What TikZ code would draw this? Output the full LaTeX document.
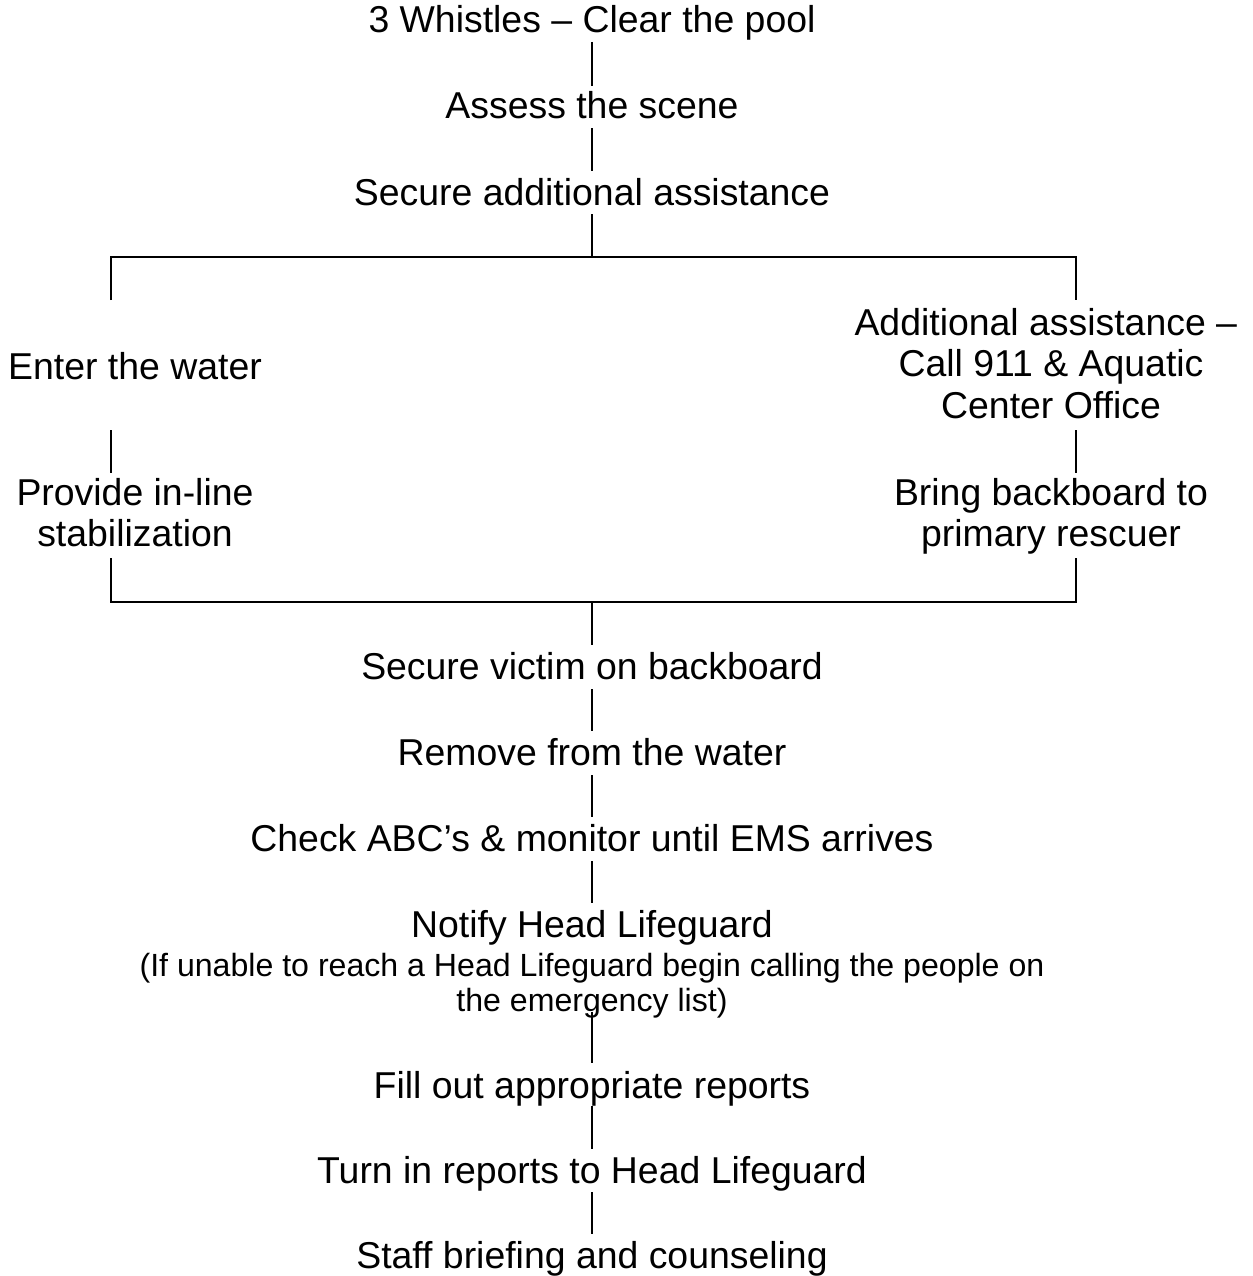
\documentclass[tikz,border=0pt]{standalone}
\usepackage{fontspec}
\setmainfont{Liberation Sans}
\usetikzlibrary{calc}
\newcommand\mainsz{\fontsize{37.4}{41.5}\selectfont}
\newcommand\notesz{\fontsize{32.1}{35}\selectfont}
\newcommand\lines[1]{\begin{tabular}[t]{@{}c@{}}#1\end{tabular}}
\tikzset{
  steptext/.style={anchor=base, inner sep=0pt, outer sep=0pt, font=\mainsz},
  notetext/.style={anchor=base, inner sep=0pt, outer sep=0pt, font=\notesz},
  link/.style={draw=black, line width=1.5pt, line cap=butt},
}
\begin{document}
\begin{tikzpicture}[x=1pt, y=-1pt]
\useasboundingbox (0,0) rectangle (1252,1276);
\fill[white] (0,0) rectangle (1252,1276);

% top chain
\node[steptext] (n1) at (592,33) {3 Whistles – Clear the pool};
\node[steptext] (n2) at (592,119) {Assess the scene};
\node[steptext] (n3) at (592,205) {Secure additional assistance};

% branches
\node[steptext] (enter) at (135,379) {Enter the water};
\node[steptext] (provide) at (135,505) {\lines{Provide in-line\\stabilization}};
\node[steptext] (addl) at (1051,335) {\lines{Additional assistance –\kern0.278em\\Call 911 \& Aquatic\\Center Office}};
\node[steptext] (bring) at (1051,505) {\lines{Bring backboard to\\primary rescuer}};

% bottom chain
\node[steptext] (s1) at (592,679) {Secure victim on backboard};
\node[steptext] (s2) at (592,765) {Remove from the water};
\node[steptext] (s3) at (592,851) {Check ABC’s \& monitor until EMS arrives};
\node[steptext] (s4) at (592,937) {Notify Head Lifeguard};
\node[notetext] (note) at (592,976) {\lines{(If unable to reach a Head Lifeguard begin calling the people on\\the emergency list)}};
\node[steptext] (s5) at (592,1098) {Fill out appropriate reports};
\node[steptext] (s6) at (592,1183) {Turn in reports to Head Lifeguard};
\node[steptext] (s7) at (592,1268) {Staff briefing and counseling};

% junction coordinates
\coordinate (jtop) at (592,257);
\coordinate (tl) at (111,257);
\coordinate (tr) at (1076,257);
\coordinate (tlend) at (111,300);
\coordinate (trend) at (1076,300);
\coordinate (ml1) at (111,430);
\coordinate (ml2) at (111,473);
\coordinate (mr1) at (1076,430);
\coordinate (mr2) at (1076,473);
\coordinate (bl1) at (111,558);
\coordinate (bl) at (111,602);
\coordinate (br) at (1076,602);
\coordinate (br1) at (1076,558);
\coordinate (jbot) at (592,602);

% connectors
\draw[link] ($(n1.base)+(0,9)$) -- ($(n2.base)+(0,-33)$);
\draw[link] ($(n2.base)+(0,9.5)$) -- ($(n3.base)+(0,-33.5)$);
\draw[link] ($(n3.base)+(0,9)$) -- (jtop);
\draw[link] (tlend) -- (tl) -- (tr) -- (trend);
\draw[link] (ml1) -- (ml2);
\draw[link] (mr1) -- (mr2);
\draw[link] (bl1) -- (bl) -- (br) -- (br1);
\draw[link] (jbot) -- ($(s1.base)+(0,-34)$);
\draw[link] ($(s1.base)+(0,10)$) -- ($(s2.base)+(0,-34)$);
\draw[link] ($(s2.base)+(0,10)$) -- ($(s3.base)+(0,-34)$);
\draw[link] ($(s3.base)+(0,10)$) -- ($(s4.base)+(0,-34)$);
\draw[link] ($(note.south)+(0,-10)$) -- ($(s5.base)+(0,-35)$);
\draw[link] ($(s5.base)+(0,8)$) -- ($(s6.base)+(0,-34)$);
\draw[link] ($(s6.base)+(0,9)$) -- ($(s7.base)+(0,-34)$);
\end{tikzpicture}
\end{document}
